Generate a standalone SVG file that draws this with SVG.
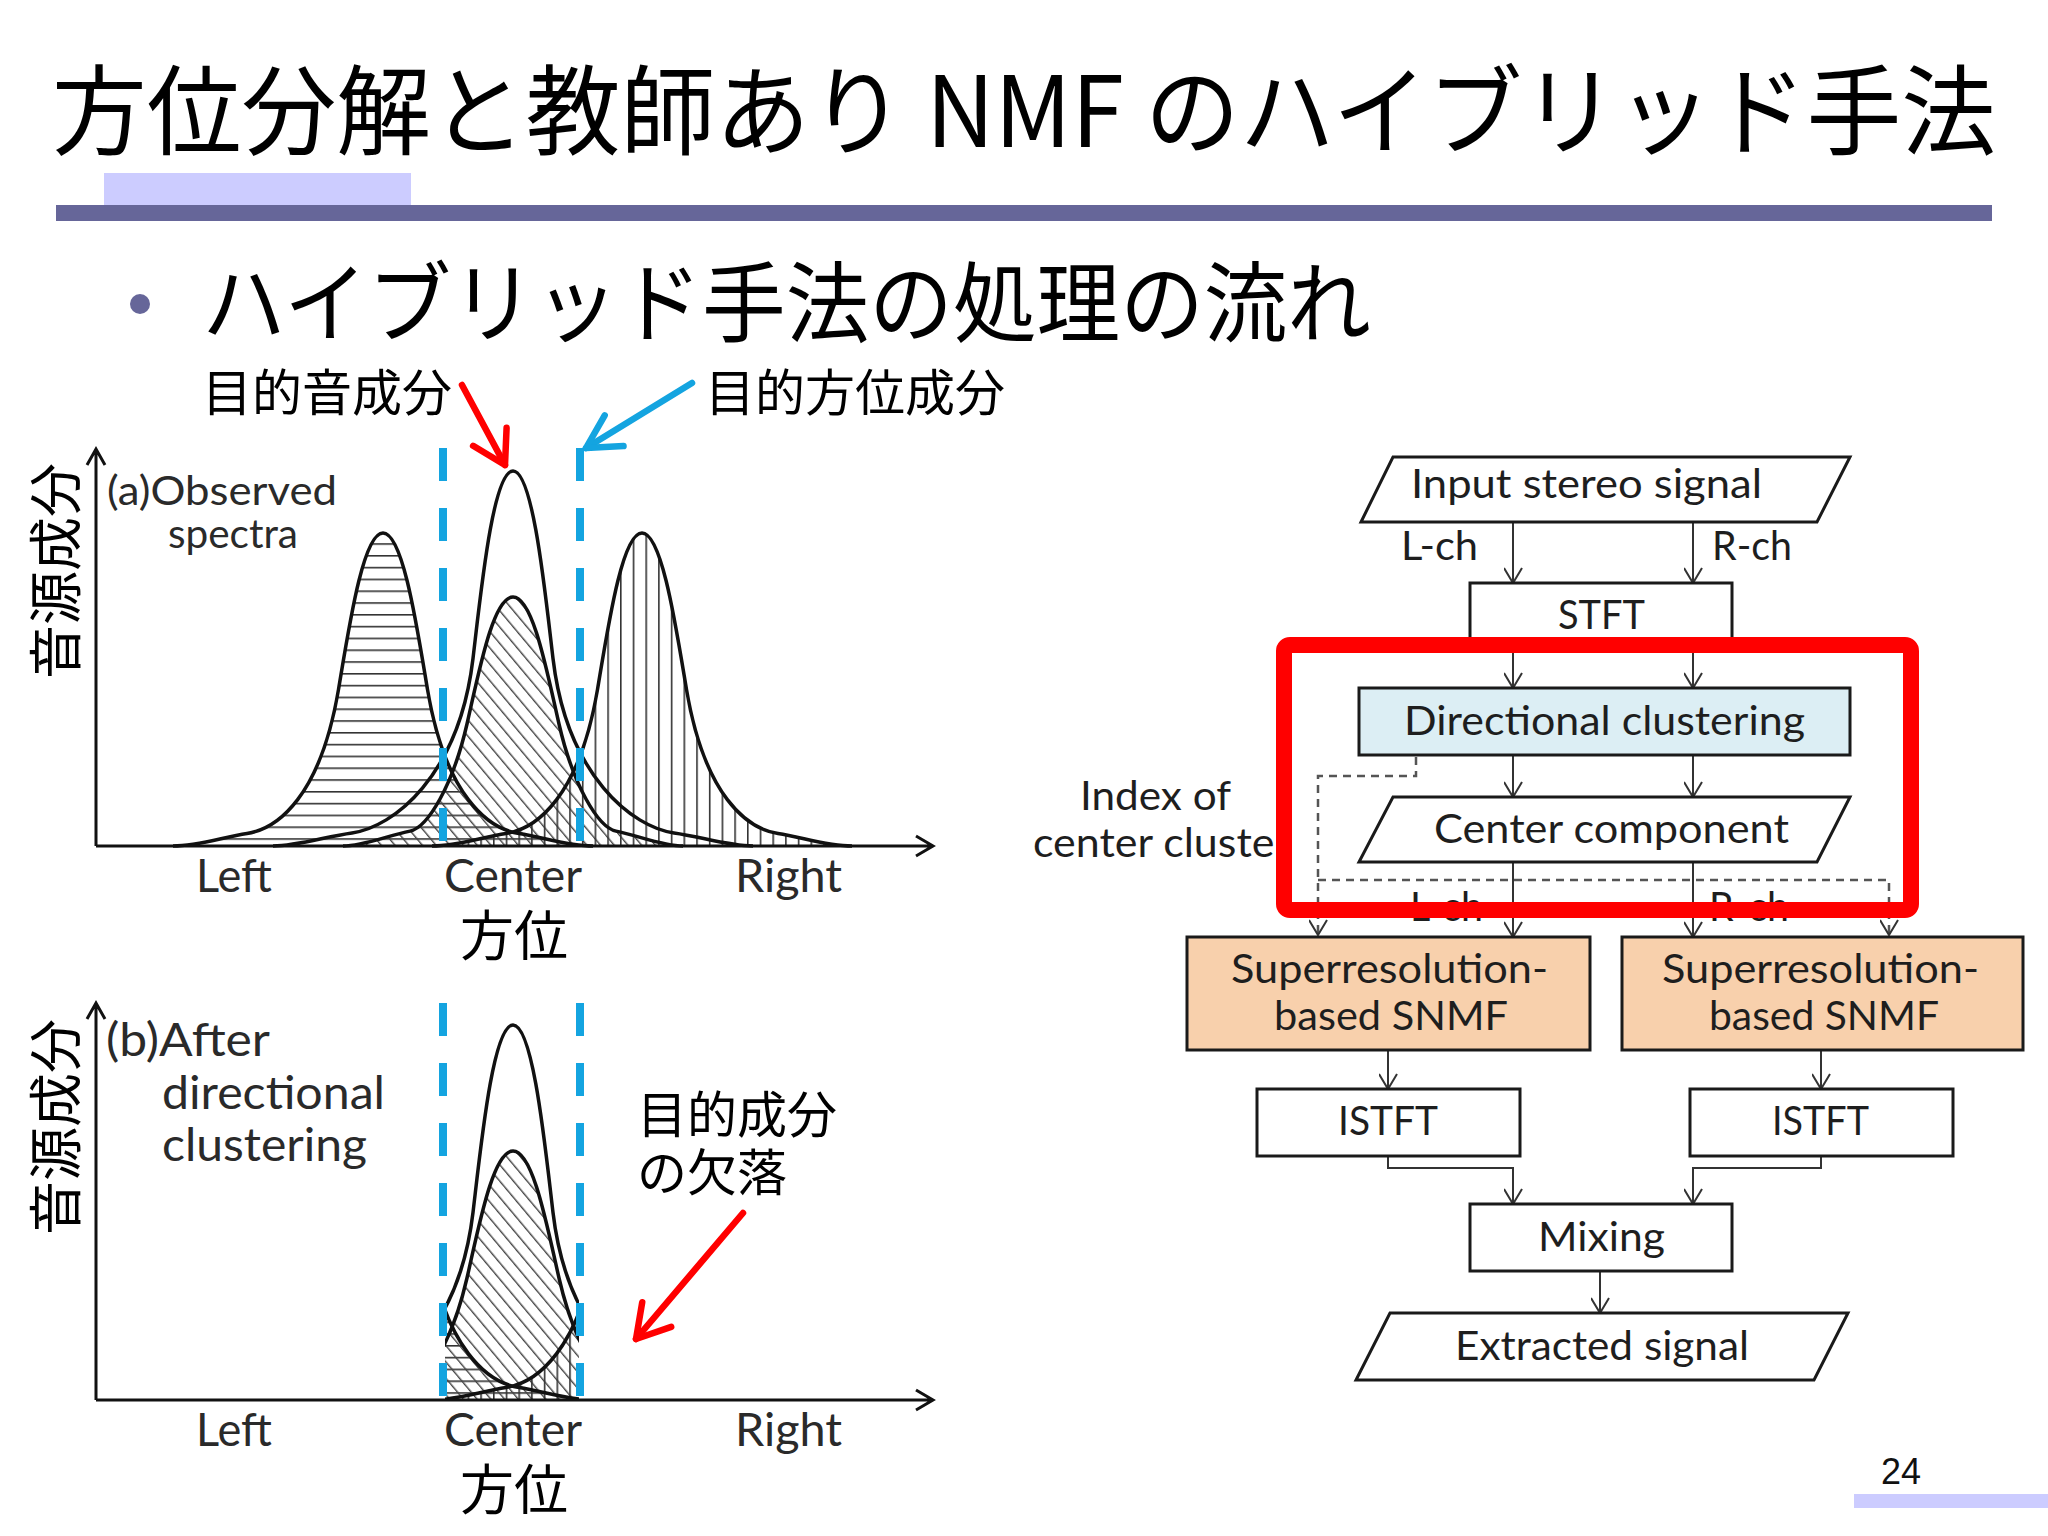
<svg xmlns="http://www.w3.org/2000/svg" xmlns:xlink="http://www.w3.org/1999/xlink" width="2048" height="1536" viewBox="0 0 2048 1536">
<style>
.jp{font-family:"Noto Sans CJK JP","Noto Sans CJK SC",sans-serif;fill:#000}
.lt{font-family:Lato,"Open Sans","Liberation Sans",sans-serif;fill:#2a2a2a}
.fc{font-family:Lato,"Open Sans","Liberation Sans",sans-serif;fill:#1e1e1e;font-size:41px}
.box{fill:#fff;stroke:#1a1a1a;stroke-width:3}
.snmf{fill:#F8D0AC;stroke:#1a1a1a;stroke-width:3}
.dc{fill:#DCEEF4;stroke:#1a1a1a;stroke-width:3}
.con{fill:none;stroke:#333;stroke-width:2}
.dash{fill:none;stroke:#555;stroke-width:2.5;stroke-dasharray:8 6}
.curve{fill:none;stroke:#111;stroke-width:3.5}
.axis{fill:none;stroke:#111;stroke-width:3}
.blue{fill:none;stroke:#14A4E0;stroke-width:8;stroke-dasharray:33 27}
</style>
<defs>
<marker id="ah" viewBox="0 0 18 19" refX="16" refY="9.5" markerWidth="18" markerHeight="19" markerUnits="userSpaceOnUse" orient="auto">
<path d="M1,0.5 L16,9.5 L1,18.5" fill="none" stroke="#333" stroke-width="2"/>
</marker>
<marker id="redHead" viewBox="-40 -25 44 50" refX="0" refY="0" markerWidth="44" markerHeight="50" markerUnits="userSpaceOnUse" orient="auto">
<path d="M-32,-19 L0,0 L-32,19" fill="none" stroke="#FF0000" stroke-width="6.5" stroke-linecap="round" stroke-linejoin="round"/>
</marker>
<marker id="blueHead" viewBox="-40 -25 44 50" refX="0" refY="0" markerWidth="44" markerHeight="50" markerUnits="userSpaceOnUse" orient="auto">
<path d="M-33,-18 L0,0 L-33,18" fill="none" stroke="#14A4E0" stroke-width="6.5" stroke-linecap="round" stroke-linejoin="round"/>
</marker>
<pattern id="hatchH" patternUnits="userSpaceOnUse" x="0" y="555" width="40" height="11.8"><rect x="0" y="0" width="40" height="1.6" fill="#333"/></pattern>
<pattern id="hatchV" patternUnits="userSpaceOnUse" x="620" y="0" width="12.7" height="40"><rect x="0" y="0" width="1.6" height="40" fill="#333"/></pattern>
<pattern id="hatchD" patternUnits="userSpaceOnUse" x="0" y="0" width="10.5" height="40" patternTransform="rotate(-40)"><rect x="0" y="0" width="1.4" height="40" fill="#444"/></pattern>
<g id="curves">
<path d="M 173,846 C 198,846 223,837.2 247,833.5 C 278,828.8 320.5,796 338.5,689.5 C 349,627 363,533 383,533 C 403,533 417,627 427.5,689.5 C 445.5,796 488,828.8 519,833.5 C 543,837.2 568,846 593,846 Z" fill="url(#hatchH)"/>
<path d="M 343,846 C 363,846 388,835.5 410,831.1 C 428,827.3 453,785 467,724 C 479,671.7 493,597 513,597 C 533,597 547,671.7 559,724 C 573,785 598,827.3 616,831.1 C 638,835.5 663,846 683,846 Z" fill="url(#hatchD)"/>
<path d="M 432,846 C 457,846 482,837.2 506,833.5 C 537,828.8 579.5,796 597.5,689.5 C 608,627 622,533 642,533 C 662,533 676,627 686.5,689.5 C 704.5,796 747,828.8 778,833.5 C 802,837.2 827,846 852,846 Z" fill="url(#hatchV)"/>
<path class="curve" d="M 173,846 C 198,846 223,837.2 247,833.5 C 278,828.8 320.5,796 338.5,689.5 C 349,627 363,533 383,533 C 403,533 417,627 427.5,689.5 C 445.5,796 488,828.8 519,833.5 C 543,837.2 568,846 593,846"/>
<path class="curve" d="M 432,846 C 457,846 482,837.2 506,833.5 C 537,828.8 579.5,796 597.5,689.5 C 608,627 622,533 642,533 C 662,533 676,627 686.5,689.5 C 704.5,796 747,828.8 778,833.5 C 802,837.2 827,846 852,846"/>
<path class="curve" d="M 273,846 C 298,846 326,836.4 352,832.9 C 393,827.25 459,776.6 473,658.5 C 481,591 493,471 513,471 C 533,471 545,591 553,658.5 C 567,776.6 633,827.25 674,832.9 C 700,836.4 728,846 753,846"/>
<path class="curve" d="M 343,846 C 363,846 388,835.5 410,831.1 C 428,827.3 453,785 467,724 C 479,671.7 493,597 513,597 C 533,597 547,671.7 559,724 C 573,785 598,827.3 616,831.1 C 638,835.5 663,846 683,846"/>
</g>
<clipPath id="band"><rect x="445" y="950" width="134" height="452"/></clipPath>
</defs>
<rect x="0" y="0" width="2048" height="1536" fill="#fff"/>

<g id="title">
<text class="jp" x="52" y="147" font-size="98" textLength="1944" lengthAdjust="spacingAndGlyphs">方位分解と教師あり NMF のハイブリッド手法</text>
<rect x="104" y="173" width="307" height="32" fill="#CCCCFF"/>
<rect x="56" y="205" width="1936" height="16" fill="#666699"/>
</g>

<g id="bullet">
<circle cx="140" cy="304" r="10" fill="#666699"/>
<text class="jp" x="202" y="335" font-size="88" textLength="1169" lengthAdjust="spacingAndGlyphs">ハイブリッド手法の処理の流れ</text>
</g>

<g id="graph-a">
<use href="#curves" xlink:href="#curves"/>
<path class="axis" d="M96,846 V449 M87,465 L96,449 L105,465 M96,846 H933 M916,836 L933,846 L916,856"/>
<line class="blue" x1="443" y1="448" x2="443" y2="846"/>
<line class="blue" x1="580" y1="448" x2="580" y2="846"/>
<text class="jp" transform="translate(76,571) rotate(-90)" font-size="54" text-anchor="middle">音源成分</text>
<text class="lt" x="107" y="505" font-size="40" textLength="230" lengthAdjust="spacingAndGlyphs">(a)Observed</text>
<text class="lt" x="168" y="548" font-size="40" textLength="130" lengthAdjust="spacingAndGlyphs">spectra</text>
<text class="lt" x="196" y="892" font-size="46" textLength="76" lengthAdjust="spacingAndGlyphs">Left</text>
<text class="lt" x="444" y="892" font-size="46" textLength="138" lengthAdjust="spacingAndGlyphs">Center</text>
<text class="lt" x="735" y="892" font-size="46" textLength="107" lengthAdjust="spacingAndGlyphs">Right</text>
<text class="jp" x="514" y="956" font-size="54" text-anchor="middle">方位</text>
</g>

<g id="annot-a">
<text class="jp" x="202" y="411" font-size="50">目的音成分</text>
<text class="jp" x="705" y="411" font-size="50">目的方位成分</text>
<line x1="462" y1="385" x2="505" y2="465" stroke="#FF0000" stroke-width="6.5" stroke-linecap="round" marker-end="url(#redHead)"/>
<line x1="692" y1="383" x2="586" y2="448" stroke="#14A4E0" stroke-width="6.5" stroke-linecap="round" marker-end="url(#blueHead)"/>
</g>

<g id="graph-b">
<g clip-path="url(#band)"><use href="#curves" xlink:href="#curves" transform="translate(0,554)"/></g>
<path class="axis" d="M96,1400 V1003 M87,1019 L96,1003 L105,1019 M96,1400 H933 M916,1390 L933,1400 L916,1410"/>
<line class="blue" x1="443" y1="1003" x2="443" y2="1400"/>
<line class="blue" x1="580" y1="1003" x2="580" y2="1400"/>
<text class="jp" transform="translate(76,1127) rotate(-90)" font-size="54" text-anchor="middle">音源成分</text>
<text class="lt" x="106" y="1056" font-size="46" textLength="164" lengthAdjust="spacingAndGlyphs">(b)After</text>
<text class="lt" x="162" y="1109" font-size="46" textLength="223" lengthAdjust="spacingAndGlyphs">directional</text>
<text class="lt" x="162" y="1161" font-size="46" textLength="205" lengthAdjust="spacingAndGlyphs">clustering</text>
<text class="lt" x="196" y="1446" font-size="46" textLength="76" lengthAdjust="spacingAndGlyphs">Left</text>
<text class="lt" x="444" y="1446" font-size="46" textLength="138" lengthAdjust="spacingAndGlyphs">Center</text>
<text class="lt" x="735" y="1446" font-size="46" textLength="107" lengthAdjust="spacingAndGlyphs">Right</text>
<text class="jp" x="514" y="1510" font-size="54" text-anchor="middle">方位</text>
</g>

<g id="annot-b">
<text class="jp" x="637" y="1133" font-size="50">目的成分</text>
<text class="jp" x="637" y="1191" font-size="50">の欠落</text>
<line x1="743" y1="1213" x2="636" y2="1339" stroke="#FF0000" stroke-width="6.5" stroke-linecap="round" marker-end="url(#redHead)"/>
</g>

<g id="connectors">
<line class="con" x1="1513" y1="522" x2="1513" y2="583" marker-end="url(#ah)"/>
<line class="con" x1="1693" y1="522" x2="1693" y2="583" marker-end="url(#ah)"/>
<line class="con" x1="1513" y1="645" x2="1513" y2="688" marker-end="url(#ah)"/>
<line class="con" x1="1693" y1="645" x2="1693" y2="688" marker-end="url(#ah)"/>
<line class="con" x1="1513" y1="755" x2="1513" y2="797" marker-end="url(#ah)"/>
<line class="con" x1="1693" y1="755" x2="1693" y2="797" marker-end="url(#ah)"/>
<path class="dash" d="M1416,757 V776 H1318 V935" marker-end="url(#ah)"/>
<path class="dash" d="M1318,880 H1889 V935" marker-end="url(#ah)"/>
<line class="con" x1="1513" y1="862" x2="1513" y2="937" marker-end="url(#ah)"/>
<line class="con" x1="1693" y1="862" x2="1693" y2="937" marker-end="url(#ah)"/>
<line class="con" x1="1388" y1="1050" x2="1388" y2="1089" marker-end="url(#ah)"/>
<line class="con" x1="1821" y1="1050" x2="1821" y2="1089" marker-end="url(#ah)"/>
<path class="con" d="M1388,1156 V1168 H1513 V1204" marker-end="url(#ah)"/>
<path class="con" d="M1821,1156 V1168 H1693 V1204" marker-end="url(#ah)"/>
<line class="con" x1="1600" y1="1271" x2="1600" y2="1313" marker-end="url(#ah)"/>
<text class="fc" x="1401" y="560" font-size="38" textLength="77" lengthAdjust="spacingAndGlyphs">L-ch</text>
<text class="fc" x="1712" y="560" font-size="38" textLength="80" lengthAdjust="spacingAndGlyphs">R-ch</text>
<text class="fc" x="1410" y="921" font-size="38" textLength="73" lengthAdjust="spacingAndGlyphs">L-ch</text>
<text class="fc" x="1709" y="921" font-size="38" textLength="80" lengthAdjust="spacingAndGlyphs">R-ch</text>
<text class="fc" x="1080" y="810" textLength="151" lengthAdjust="spacingAndGlyphs">Index of</text>
<text class="fc" x="1033" y="857" textLength="257" lengthAdjust="spacingAndGlyphs">center cluster</text>
</g>

<g id="node-input">
<path class="box" d="M1393,457 H1850 L1817,522 H1361 Z"/>
<text class="fc" x="1411" y="498" textLength="351" lengthAdjust="spacingAndGlyphs">Input stereo signal</text>
</g>
<g id="node-stft">
<rect class="box" x="1470" y="583" width="262" height="62"/>
<text class="fc" x="1558" y="629" textLength="87" lengthAdjust="spacingAndGlyphs">STFT</text>
</g>
<g id="node-dc">
<rect class="dc" x="1359" y="688" width="491" height="67"/>
<text class="fc" x="1404" y="735" textLength="401" lengthAdjust="spacingAndGlyphs">Directional clustering</text>
</g>
<g id="node-center">
<path class="box" d="M1393,797 H1850 L1817,862 H1359 Z"/>
<text class="fc" x="1434" y="843" textLength="355" lengthAdjust="spacingAndGlyphs">Center component</text>
</g>
<g id="node-snmf-l">
<rect class="snmf" x="1187" y="937" width="403" height="113"/>
<text class="fc" x="1231" y="983" textLength="317" lengthAdjust="spacingAndGlyphs">Superresolution-</text>
<text class="fc" x="1274" y="1030" textLength="234" lengthAdjust="spacingAndGlyphs">based SNMF</text>
</g>
<g id="node-snmf-r">
<rect class="snmf" x="1622" y="937" width="401" height="113"/>
<text class="fc" x="1662" y="983" textLength="317" lengthAdjust="spacingAndGlyphs">Superresolution-</text>
<text class="fc" x="1709" y="1030" textLength="230" lengthAdjust="spacingAndGlyphs">based SNMF</text>
</g>
<g id="node-istft-l">
<rect class="box" x="1257" y="1089" width="263" height="67"/>
<text class="fc" x="1338" y="1135" textLength="100" lengthAdjust="spacingAndGlyphs">ISTFT</text>
</g>
<g id="node-istft-r">
<rect class="box" x="1690" y="1089" width="263" height="67"/>
<text class="fc" x="1772" y="1135" textLength="97" lengthAdjust="spacingAndGlyphs">ISTFT</text>
</g>
<g id="node-mixing">
<rect class="box" x="1470" y="1204" width="262" height="67"/>
<text class="fc" x="1538" y="1251" textLength="127" lengthAdjust="spacingAndGlyphs">Mixing</text>
</g>
<g id="node-extracted">
<path class="box" d="M1390,1313 H1848 L1814,1380 H1356 Z"/>
<text class="fc" x="1455" y="1360" textLength="294" lengthAdjust="spacingAndGlyphs">Extracted signal</text>
</g>

<g id="highlight">
<rect x="1284" y="645" width="627" height="265" rx="6" fill="none" stroke="#FF0000" stroke-width="16"/>
</g>

<g id="footer">
<text x="1881" y="1484" font-family="'Liberation Sans',Arial,sans-serif" font-size="36" fill="#111">24</text>
<rect x="1854" y="1494" width="194" height="14" fill="#CCCCFF"/>
</g>
</svg>
